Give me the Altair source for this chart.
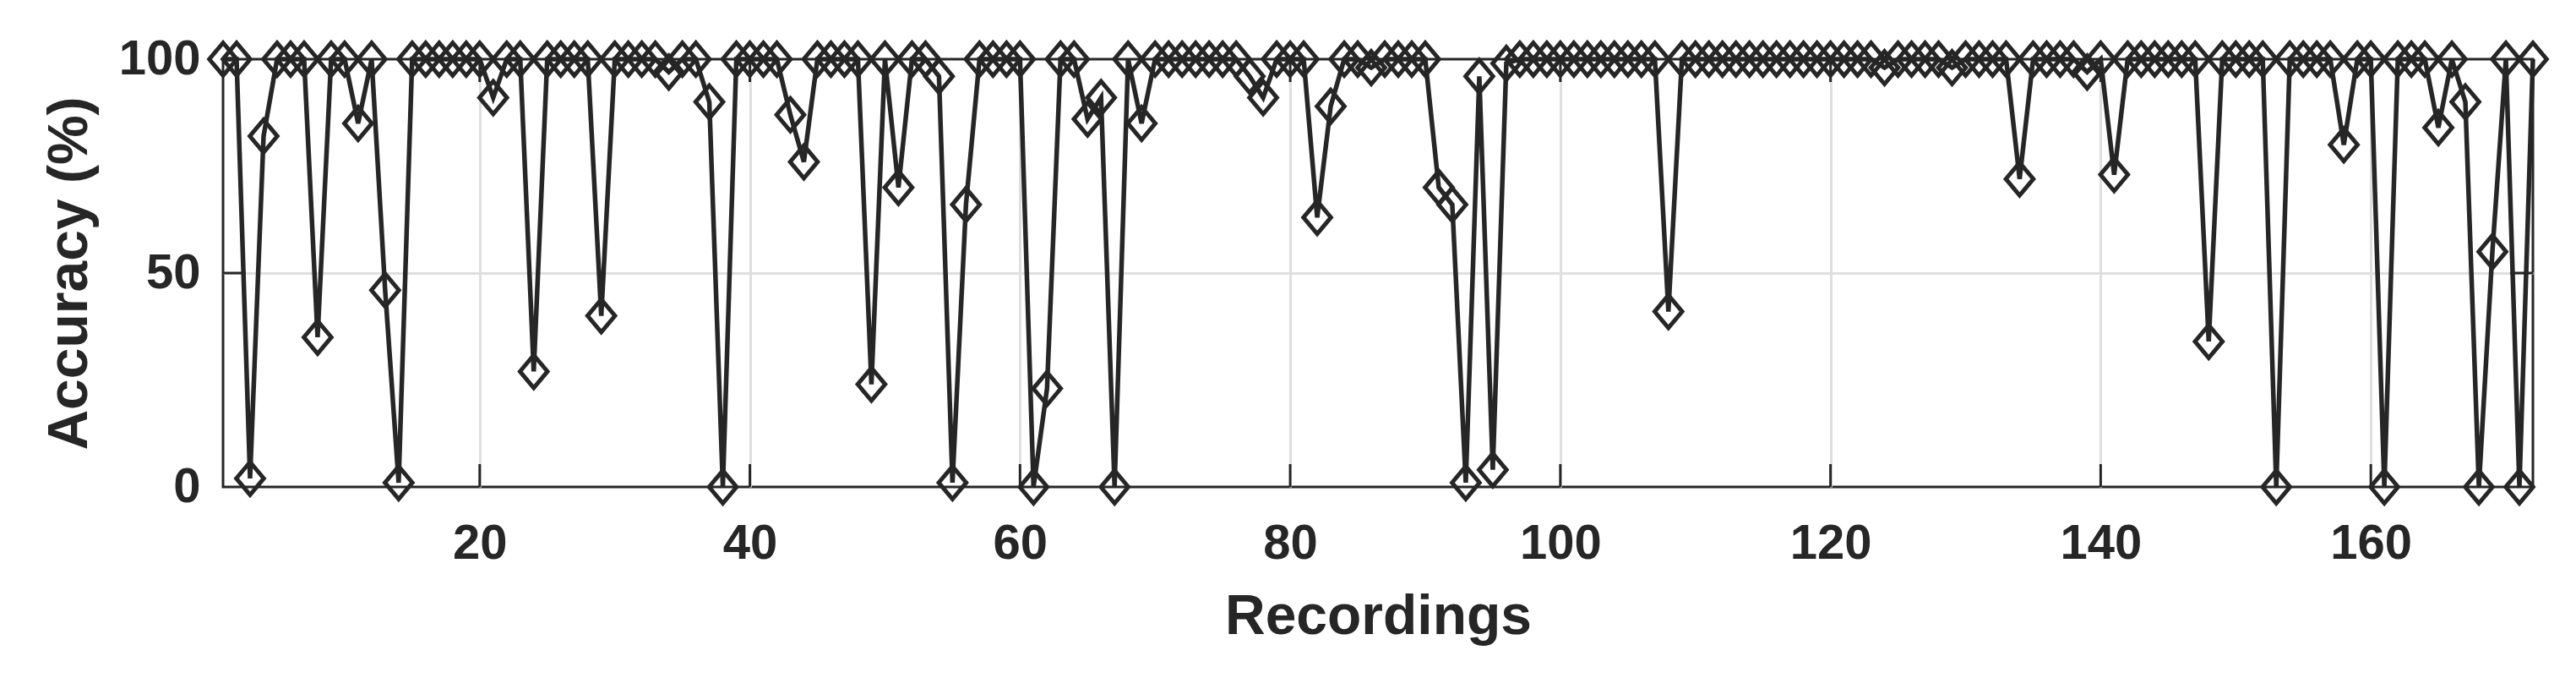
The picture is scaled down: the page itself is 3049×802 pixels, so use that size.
import altair as alt
import pandas as pd

# ---- data ----
recordings = list(range(1, 173))
accuracy = [
    100, 100, 2, 82, 100, 100, 100, 35, 100, 100,      # 1-10
    85, 100, 46, 1, 100, 100, 100, 100, 100, 100,      # 11-20
    91, 100, 100, 27, 100, 100, 100, 100, 40, 100,     # 21-30
    100, 100, 100, 97, 100, 100, 90, 0, 100, 100,      # 31-40
    100, 100, 87, 76, 100, 100, 100, 100, 24, 100,     # 41-50
    70, 100, 100, 96, 1, 66, 100, 100, 100, 100,       # 51-60
    0, 23, 100, 100, 86, 91, 0, 100, 85, 100,          # 61-70
    100, 100, 100, 100, 100, 100, 96, 91, 100, 100,    # 71-80
    100, 63, 89, 100, 100, 98, 100, 100, 100, 100,     # 81-90
    70, 66, 1, 96, 4, 99, 100, 100, 100, 100,          # 91-100
    100, 100, 100, 100, 100, 100, 100, 41, 100, 100,   # 101-110
    100, 100, 100, 100, 100, 100, 100, 100, 100, 100,  # 111-120
    100, 100, 100, 98, 100, 100, 100, 100, 98, 100,    # 121-130
    100, 100, 100, 72, 100, 100, 100, 100, 97, 100,    # 131-140
    73, 100, 100, 100, 100, 100, 100, 34, 100, 100,    # 141-150
    100, 100, 0, 100, 100, 100, 100, 80, 100, 100,     # 151-160
    0, 100, 100, 100, 84, 100, 90, 0, 55, 100,         # 161-170
    0, 100,                                            # 171-172
]
x_ticks = [20, 40, 60, 80, 100, 120, 140, 160]
y_ticks = [0, 50, 100]
x_domain = [1, 172]
y_domain = [0, 100]

INK = "#262626"
GRID = "#dfdfdf"
FONT = "Liberation Sans"

df = pd.DataFrame({"Recording": recordings, "Accuracy": accuracy})
xt_bottom = pd.DataFrame({"Recording": x_ticks, "Accuracy": [y_domain[0]] * len(x_ticks)})
xt_top = pd.DataFrame({"Recording": x_ticks, "Accuracy": [y_domain[1]] * len(x_ticks)})
inner_y = [v for v in y_ticks if y_domain[0] < v < y_domain[1]]
yt_left = pd.DataFrame({"Recording": [x_domain[0]] * len(inner_y), "Accuracy": inner_y})
yt_right = pd.DataFrame({"Recording": [x_domain[1]] * len(inner_y), "Accuracy": inner_y})

x_enc = alt.X(
    "Recording:Q",
    scale=alt.Scale(domain=x_domain, nice=False, zero=False),
    axis=alt.Axis(
        values=x_ticks, title="Recordings", grid=True, gridColor=GRID, gridWidth=3,
        domain=False, ticks=False, tickSize=0,
        labelFont=FONT, labelFontSize=58, labelFontWeight="bold", labelColor=INK,
        labelPadding=84, labelBaseline="alphabetic",
        titleFont=FONT, titleFontSize=66, titleFontWeight="bold", titleColor=INK,
        titleBaseline="alphabetic", titleY=173,
    ),
)
y_enc = alt.Y(
    "Accuracy:Q",
    scale=alt.Scale(domain=y_domain, nice=False, zero=False),
    axis=alt.Axis(
        values=y_ticks, title="Accuracy (%)", grid=True, gridColor=GRID, gridWidth=3,
        gridOpacity={"condition": {"test": "datum.value > 0 && datum.value < 100", "value": 1}, "value": 0},
        domain=False, ticks=False, tickSize=0,
        labelFont=FONT, labelFontSize=58, labelFontWeight="bold", labelColor=INK,
        labelPadding=27, labelAlign="right", labelBaseline="middle",
        titleFont=FONT, titleFontSize=66, titleFontWeight="bold", titleColor=INK,
        titleAngle=270, titleAlign="center", titleBaseline="alphabetic",
        titleX=-162, titleY=253,
    ),
)

line = alt.Chart(df).mark_line(color=INK, strokeWidth=5.5, strokeJoin="miter").encode(x=x_enc, y=y_enc)
diamond = "M0,-1L0.84,0L0,1L-0.84,0Z"
points = alt.Chart(df).mark_point(
    shape=diamond, size=1500, filled=False, color=INK, strokeWidth=5, opacity=1, strokeJoin="miter"
).encode(x=x_enc, y=y_enc)

TL = 27
tb = alt.Chart(xt_bottom).mark_tick(orient="vertical", size=TL, thickness=3, color=INK, yOffset=-TL / 2, opacity=1).encode(x=x_enc, y=y_enc)
tt = alt.Chart(xt_top).mark_tick(orient="vertical", size=TL, thickness=3, color=INK, yOffset=TL / 2, opacity=1).encode(x=x_enc, y=y_enc)
tl = alt.Chart(yt_left).mark_tick(orient="horizontal", size=TL, thickness=3, color=INK, xOffset=TL / 2, opacity=1).encode(x=x_enc, y=y_enc)
tr = alt.Chart(yt_right).mark_tick(orient="horizontal", size=TL, thickness=3, color=INK, xOffset=-TL / 2, opacity=1).encode(x=x_enc, y=y_enc)

chart = (
    alt.layer(tb, tt, tl, tr, line, points)
    .properties(
        width=2734, height=506,
        padding={"left": 256, "top": 62, "right": 40, "bottom": 210},
        autosize=alt.AutoSizeParams(type="none"),
        background="white",
    )
    .configure_view(stroke=INK, strokeWidth=3)
)

chart.save("out.html", embed_options={"renderer": "svg", "actions": False})
